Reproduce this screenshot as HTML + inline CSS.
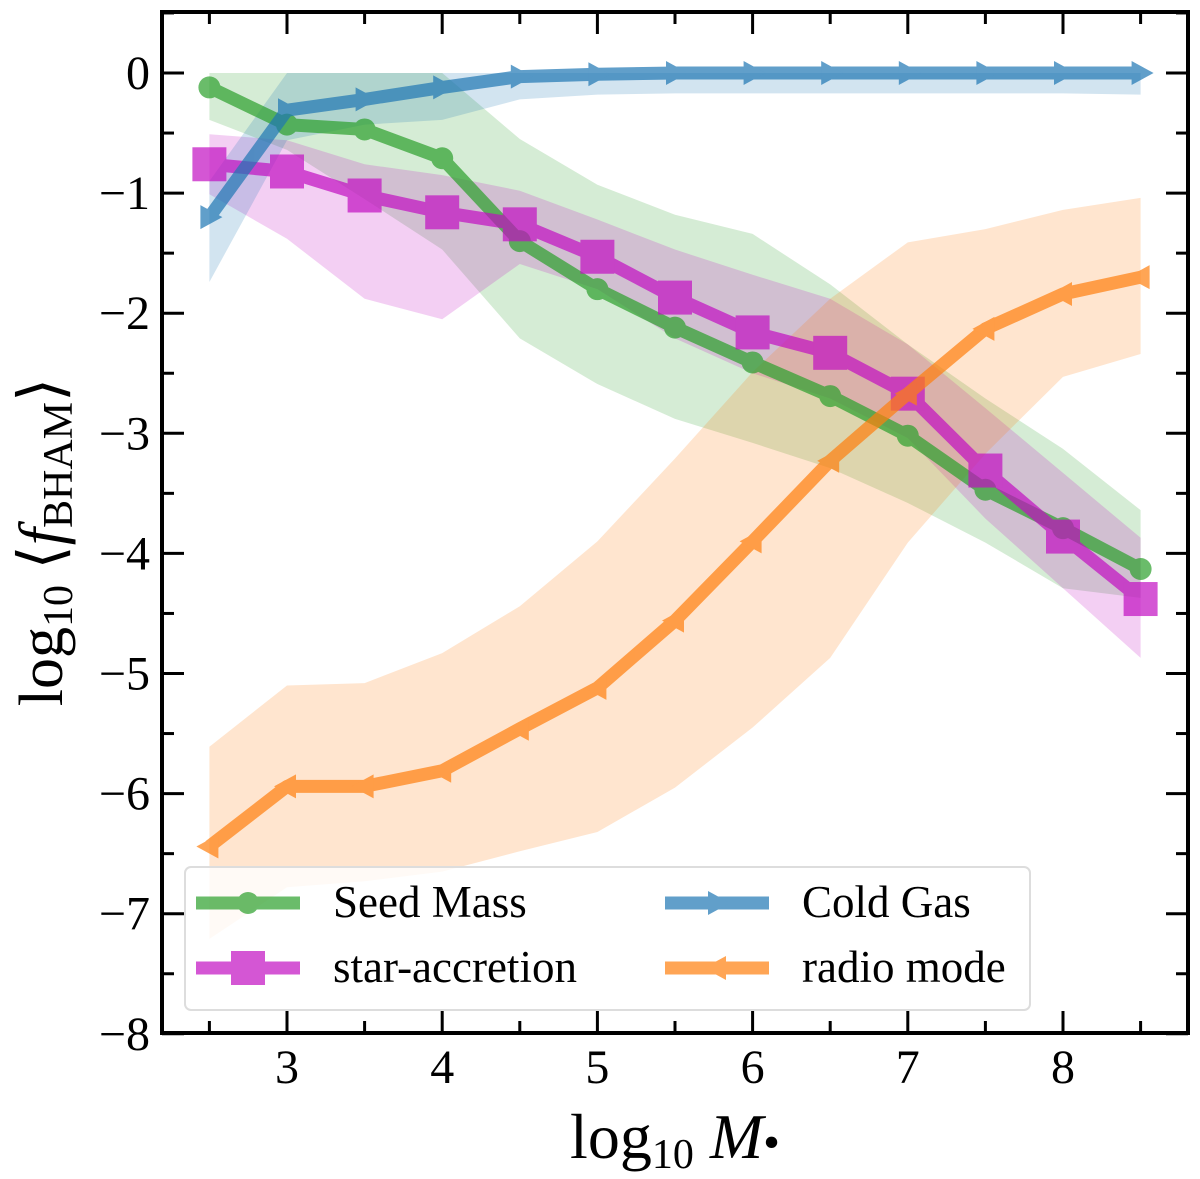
<!DOCTYPE html>
<html><head><meta charset="utf-8"><style>
body{margin:0;background:#fff}
svg text{font-family:"Liberation Serif",serif;fill:#000}
</style></head><body>
<svg id="chart" width="1200" height="1174" xmlns="http://www.w3.org/2000/svg">
<g id="bands"></g><g id="lines"></g><g id="axes"></g><g id="legend"></g>
</svg>
<script>
const xVals=[2.5,3,3.5,4,4.5,5,5.5,6,6.5,7,7.5,8,8.5];
const seedMass=[-0.12,-0.43,-0.47,-0.71,-1.40,-1.80,-2.12,-2.41,-2.69,-3.02,-3.47,-3.79,-4.13];
const seedHi=[0,0,0,0,-0.55,-0.93,-1.18,-1.34,-1.76,-2.26,-2.71,-3.13,-3.64];
const seedLo=[-0.39,-0.64,-1.05,-1.47,-2.21,-2.59,-2.88,-3.08,-3.29,-3.58,-3.91,-4.29,-4.37];
const starAcc=[-0.76,-0.82,-1.02,-1.16,-1.26,-1.53,-1.87,-2.16,-2.33,-2.67,-3.31,-3.86,-4.38];
const starHi=[-0.51,-0.56,-0.76,-0.85,-0.98,-1.22,-1.47,-1.68,-1.88,-2.26,-2.79,-3.33,-3.87];
const starLo=[-1.01,-1.38,-1.88,-2.05,-1.59,-1.80,-2.21,-2.50,-2.71,-3.04,-3.71,-4.29,-4.87];
const coldGas=[-1.2,-0.31,-0.22,-0.12,-0.03,-0.01,0,0,0,0,0,0,0];
const coldHi=[-0.9,0,0,0,0,0,0,0,0,0,0,0,0];
const coldLo=[-1.74,-0.56,-0.43,-0.39,-0.22,-0.18,-0.17,-0.17,-0.17,-0.17,-0.17,-0.17,-0.18];
const radio=[-6.44,-5.94,-5.94,-5.81,-5.46,-5.12,-4.56,-3.90,-3.23,-2.67,-2.13,-1.84,-1.70];
const radioHi=[-5.61,-5.10,-5.08,-4.83,-4.44,-3.90,-3.21,-2.49,-1.88,-1.41,-1.30,-1.14,-1.04];
const radioLo=[-7.21,-6.78,-6.73,-6.65,-6.48,-6.32,-5.95,-5.45,-4.87,-3.91,-3.17,-2.53,-2.34];
const xTicks=[3,4,5,6,7,8];
const yTicks=[0,-1,-2,-3,-4,-5,-6,-7,-8];
const NS='http://www.w3.org/2000/svg';
const L=162,R=1188,T=12,B=1033;
const X=v=>287+(v-3)*155.2;
const Y=v=>73-v*120.1;
function mk(tag,attrs,parent){const e=document.createElementNS(NS,tag);for(const k in attrs)e.setAttribute(k,attrs[k]);parent.appendChild(e);return e;}
const gB=document.getElementById('bands'),gL=document.getElementById('lines'),gA=document.getElementById('axes'),gG=document.getElementById('legend');
function band(hi,lo,color,name){
 const pts=xVals.map((x,i)=>X(x)+','+Y(hi[i])).concat(xVals.map((x,i)=>X(x)+','+Y(lo[i])).reverse());
 const p=mk('polygon',{points:pts.join(' '),fill:color,'fill-opacity':0.2},gB);
 
 
}
band(seedHi,seedLo,'#2ca02c','seed-mass-band');
band(starHi,starLo,'#c20fc2','star-accretion-band');
band(coldHi,coldLo,'#1f77b4','cold-gas-band');
band(radioHi,radioLo,'#ff7f0e','radio-mode-band');
function marker(kind,x,y,color,parent){
 if(kind==='o')return mk('circle',{cx:x,cy:y,r:11,fill:color},parent);
 if(kind==='s')return mk('rect',{x:x-17,y:y-17,width:34,height:34,fill:color},parent);
 if(kind==='>')return mk('polygon',{points:`${x+13},${y} ${x-9},${y-12} ${x-9},${y+12}`,fill:color},parent);
 return mk('polygon',{points:`${x-13},${y} ${x+9},${y-12} ${x+9},${y+12}`,fill:color},parent);
}
function series(vals,color,kind,name){
 const g=mk('g',{opacity:0.7},gL);
 
 
 mk('polyline',{points:xVals.map((x,i)=>X(x)+','+Y(vals[i])).join(' '),fill:'none',stroke:color,'stroke-width':13,'stroke-linejoin':'round'},g);
 xVals.forEach((x,i)=>marker(kind,X(x),Y(vals[i]),color,g));
}
series(seedMass,'#2ca02c','o','seed-mass-line');
series(starAcc,'#c20fc2','s','star-accretion-line');
series(coldGas,'#1f77b4','>','cold-gas-line');
series(radio,'#ff7f0e','<','radio-mode-line');
const lb=mk('rect',{x:185,y:867,width:845,height:143,rx:6,fill:'#fff','fill-opacity':0.8,stroke:'#ddd','stroke-width':2},gG);

const leg=[['Seed Mass','#2ca02c','o',196,903],['star-accretion','#c20fc2','s',196,968],['Cold Gas','#1f77b4','>',665,903],['radio mode','#ff7f0e','<',665,968]];
leg.forEach(l=>{const g=mk('g',{},gG);
 
 const s=mk('g',{opacity:0.7},g);
 mk('line',{x1:l[3],y1:l[4],x2:l[3]+104,y2:l[4],stroke:l[1],'stroke-width':13},s);
 marker(l[2],l[3]+52,l[4],l[1],s);
 const t=mk('text',{x:l[3]+137,y:l[4]+14,'font-size':45},g);t.textContent=l[0];});
const fr=mk('rect',{x:L,y:T,width:R-L,height:B-T,fill:'none',stroke:'#000','stroke-width':4},gA);

for(let v=2.5;v<=8.51;v+=0.5){const x=X(v),maj=Math.abs(v-Math.round(v))<0.01,len=maj?22:12;
 mk('line',{x1:x,y1:B,x2:x,y2:B-len,stroke:'#000','stroke-width':3},gA);
 mk('line',{x1:x,y1:T,x2:x,y2:T+len,stroke:'#000','stroke-width':3},gA);}
xTicks.forEach(v=>{const t=mk('text',{x:X(v),y:B+50,'font-size':48,'text-anchor':'middle'},gA);t.textContent=v;
 });
for(let v=0.5;v>=-8;v-=0.5){const y=Y(v),maj=Math.abs(v-Math.round(v))<0.01,len=maj?22:12;
 mk('line',{x1:L,y1:y,x2:L+len,y2:y,stroke:'#000','stroke-width':3},gA);
 mk('line',{x1:R,y1:y,x2:R-len,y2:y,stroke:'#000','stroke-width':3},gA);}
yTicks.forEach(v=>{const t=mk('text',{x:150,y:Y(v)+16,'font-size':48,'text-anchor':'end'},gA);t.textContent=v===0?'0':'\u2212'+(-v);
 });
const xt=mk('text',{x:675,y:1158,'font-size':64,'text-anchor':'middle'},gA);
xt.innerHTML='log<tspan font-size="42" dy="10">10</tspan><tspan dy="-10" font-style="italic"> M</tspan><tspan font-size="48">•</tspan>';

const yt=mk('text',{x:0,y:0,'font-size':62,'text-anchor':'middle',transform:'translate(62,542) rotate(-90)'},gA);
yt.innerHTML='log<tspan font-size="42" dy="10">10</tspan><tspan dy="-10"> ⟨</tspan><tspan font-style="italic">f</tspan><tspan font-size="42" dy="10">BHAM</tspan><tspan dy="-10">⟩</tspan>';

</script>
</body></html>
